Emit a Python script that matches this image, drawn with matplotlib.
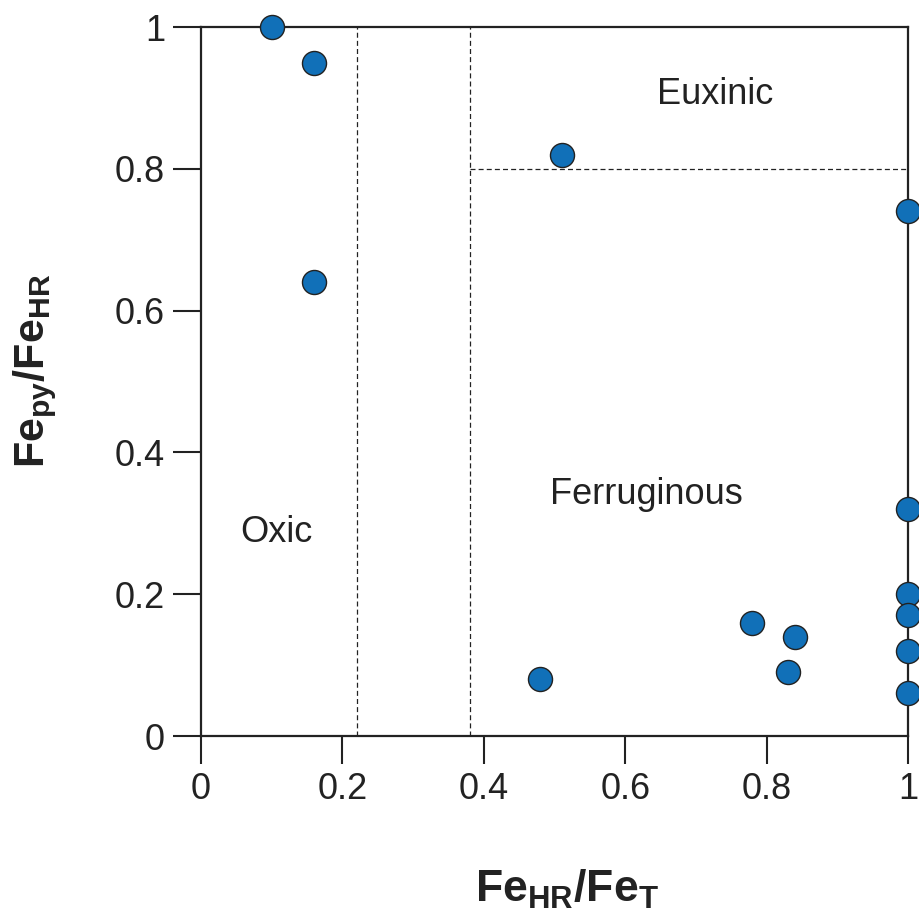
import matplotlib
matplotlib.use("Agg")
import matplotlib.pyplot as plt

plt.rcParams['font.family'] = ['Liberation Sans', 'DejaVu Sans']
plt.rcParams['mathtext.fontset'] = 'custom'
plt.rcParams['mathtext.rm'] = 'Liberation Sans'
plt.rcParams['mathtext.bf'] = 'Liberation Sans:bold'

# FeHR/FeT vs Fepy/FeHR
fe_hr_ft = [0.10, 0.16, 0.16, 0.51, 1.0, 1.0, 1.0, 1.0, 1.0, 1.0, 0.48, 0.78, 0.83, 0.84]
fe_py_hr = [1.00, 0.95, 0.64, 0.82, 0.74, 0.32, 0.20, 0.17, 0.12, 0.06, 0.08, 0.16, 0.09, 0.14]

ticks = [0, 0.2, 0.4, 0.6, 0.8, 1]
tick_labels = ['0', '0.2', '0.4', '0.6', '0.8', '1']

# threshold lines
oxic_limit = 0.22
anoxic_limit = 0.38
euxinic_limit = 0.8

fig = plt.figure(figsize=(9.2, 9.23), dpi=100)
ax = fig.add_axes([0.2185, 0.2026, 0.7685, 0.768])

ax.plot([oxic_limit, oxic_limit], [0, 1], color='#222222', lw=0.9, ls=(0, (4, 2.5)))
ax.plot([anoxic_limit, anoxic_limit], [0, 1], color='#222222', lw=0.9, ls=(0, (4, 2.5)))
ax.plot([anoxic_limit, 1], [euxinic_limit, euxinic_limit], color='#222222', lw=0.9, ls=(0, (4, 2.5)))

ax.scatter(fe_hr_ft, fe_py_hr, s=300, color='#1170b8', edgecolor='#222222',
           linewidth=1.0, zorder=5, clip_on=False)

ax.text(0.727, 0.905, 'Euxinic', fontsize=26, ha='center', va='center', color='#222222')
ax.text(0.630, 0.34, 'Ferruginous', fontsize=26, ha='center', va='center', color='#222222')
ax.text(0.107, 0.287, 'Oxic', fontsize=26, ha='center', va='center', color='#222222')

ax.set_xlim(0, 1)
ax.set_ylim(0, 1)
ax.set_xticks(ticks)
ax.set_xticklabels(tick_labels)
ax.set_yticks(ticks)
ax.set_yticklabels(tick_labels)
ax.tick_params(direction='out', length=20, width=1.5, labelsize=26, pad=6,
               colors='#222222', labelcolor='#222222')

for sp in ax.spines.values():
    sp.set_linewidth(1.6)
    sp.set_color('#222222')

ax.set_xlabel(r'$\mathbf{Fe_{HR}/Fe_T}$', fontsize=32, labelpad=44, color='#222222', x=0.518)
ax.set_ylabel(r'$\mathbf{Fe_{py}/Fe_{HR}}$', fontsize=31, labelpad=40, color='#222222', y=0.515)

fig.savefig('out.png', dpi=100)
